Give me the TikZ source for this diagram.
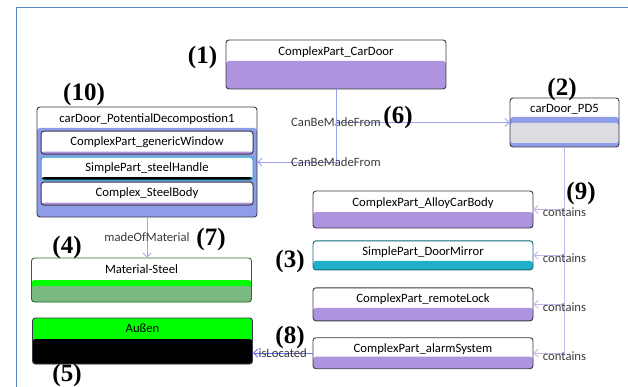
\documentclass[tikz,border=0pt]{standalone}
\usepackage{fontspec}
\setmainfont{Carlito}
\newfontfamily\tagfont{Liberation Serif}
\usetikzlibrary{arrows.meta,positioning}
\definecolor{FrameBlue}{HTML}{5A87C8}
\definecolor{PartEdge}{HTML}{3A3848}
\definecolor{PartLilac}{HTML}{AE93DE}
\definecolor{DecompBlue}{HTML}{8E9DE8}
\definecolor{GreyBody}{HTML}{DCDCE2}
\definecolor{MirrorTeal}{HTML}{1FAFC8}
\definecolor{SteelEdge}{HTML}{2E6B2E}
\definecolor{BrightGreen}{HTML}{00FF00}
\definecolor{MutedGreen}{HTML}{7CB882}
\definecolor{RelBlue}{HTML}{9AA4F2}
\definecolor{ContLilac}{HTML}{C6B6EE}
\definecolor{LabelInk}{HTML}{3A3A3A}

\begin{document}
\begin{tikzpicture}[
    x=1pt, y=-1pt,
    every node/.style={font=\fontsize{12.7}{14}\selectfont},
    part/.style={
      rounded corners=3pt,
      draw=PartEdge,
      line width=0.9pt,
      fill=white,
      minimum width=220pt,
      inner sep=0pt
    },
    inpart/.style={
      rounded corners=3pt,
      draw=PartEdge,
      line width=1pt,
      fill=white,
      minimum width=212pt,
      minimum height=23pt,
      inner sep=0pt
    },
    band/.style 2 args={path picture={
      \fill[#1] ([yshift=-#2]path picture bounding box.north west)
        rectangle (path picture bounding box.south east);}},
    hdr/.style={label={[anchor=north, inner sep=2pt, yshift=-4.5pt]north:#1}},
    elab/.style={text=LabelInk, inner sep=1pt},
    tag/.style={font=\tagfont\bfseries\fontsize{25}{27}\selectfont, inner sep=0pt},
    rel/.style={-{Straight Barb[length=4pt, width=8pt]}, draw=RelBlue, line width=0.9pt},
    cont/.style={draw=ContLilac, line width=0.9pt}
  ]
    \useasboundingbox (0,0) rectangle (628,387);
    \draw[FrameBlue, line width=1pt] (16,387) -- (16,8) -- (628,8);

    \node[part, band={PartLilac}{21pt}, minimum height=49pt, hdr=ComplexPart\_CarDoor] (carDoor) at (336,64.5) {};

    \node[part, band={DecompBlue}{21pt}, minimum height=110pt, hdr=carDoor\_PotentialDecompostion1] (pd1) at (147,162) {};
    \node[inpart, band={PartLilac}{20.5pt}, below=24pt of pd1.north] (window) {ComplexPart\_genericWindow};
    \node[inpart, draw=MirrorTeal, band={black}{20pt}, below=2pt of window] (handle) {SimplePart\_steelHandle};
    \node[inpart, band={PartLilac}{20.5pt}, below=1pt of handle] (body) {Complex\_SteelBody};

    \node[part, minimum width=109pt, minimum height=49pt, hdr=carDoor\_PD5,
      path picture={
        \fill[DecompBlue] ([yshift=-19pt]path picture bounding box.north west) rectangle (path picture bounding box.south east);
        \fill[GreyBody] ([yshift=-25pt]path picture bounding box.north west) rectangle ([yshift=4pt]path picture bounding box.south east);
      }] (pd5) at (564.5,122.5) {};

    \node[part, draw=SteelEdge, minimum height=44pt, hdr=Material-Steel,
      path picture={
        \fill[BrightGreen] ([yshift=-22pt]path picture bounding box.north west) rectangle (path picture bounding box.south east);
        \fill[MutedGreen] ([yshift=-28pt]path picture bounding box.north west) rectangle (path picture bounding box.south east);
      }] (steel) at (141.5,280) {};
    \node[part, fill=BrightGreen, band={black}{21pt}, minimum height=46pt, hdr=Außen] (aussen) at (142.5,341) {};

    \node[part, band={PartLilac}{21pt}, minimum height=37pt, hdr=ComplexPart\_AlloyCarBody] (alloy) at (423,209.5) {};
    \node[part, draw=MirrorTeal!60!black, band={MirrorTeal}{20pt}, minimum height=29pt, hdr=SimplePart\_DoorMirror, below=12pt of alloy] (mirror) {};
    \node[part, band={PartLilac}{20pt}, minimum height=33pt, hdr=ComplexPart\_remoteLock, below=17pt of mirror] (remote) {};
    \node[part, band={PartLilac}{19pt}, minimum height=31pt, hdr=ComplexPart\_alarmSystem, below=16pt of remote] (alarm) {};

    \draw[rel] (carDoor.south) |- node[elab, midway] {CanBeMadeFrom} (pd5.west);
    \draw[rel] (carDoor.south) |- node[elab, midway] {CanBeMadeFrom} (pd1.east);
    \draw[rel, draw=ContLilac!90!black] (pd1.south) -- node[elab, midway] {madeOfMaterial} (pd1.south |- steel.north);
    \draw[rel, draw=RelBlue!70!blue] (alarm.west) -- node[elab, midway] {isLocated} (alarm.west -| aussen.east);

    \draw[cont] (pd5.south) -- (pd5.south |- alarm.east);
    \foreach \b in {alloy,mirror,remote,alarm}
      \draw[cont, -{Straight Barb[length=4pt, width=8pt]}] (pd5.south |- \b.east)
        node[elab, yshift=-3pt] (c-\b) {contains} -- (\b.east);

    \node[tag] (t1) at (202.5,57.5) {(1)};
    \node[tag] (t2) at (562,89) {(2)};
    \node[tag] (t3) at (290,261) {(3)};
    \node[tag] (t4) at (67,247) {(4)};
    \node[tag] (t5) at (67,375) {(5)};
    \node[tag] (t6) at (398,117) {(6)};
    \node[tag] (t7) at (211,239) {(7)};
    \node[tag] (t8) at (290,337) {(8)};
    \node[tag] (t9) at (581,193) {(9)};
    \node[tag] (t10) at (84,94) {(10)};
\end{tikzpicture}
\end{document}
